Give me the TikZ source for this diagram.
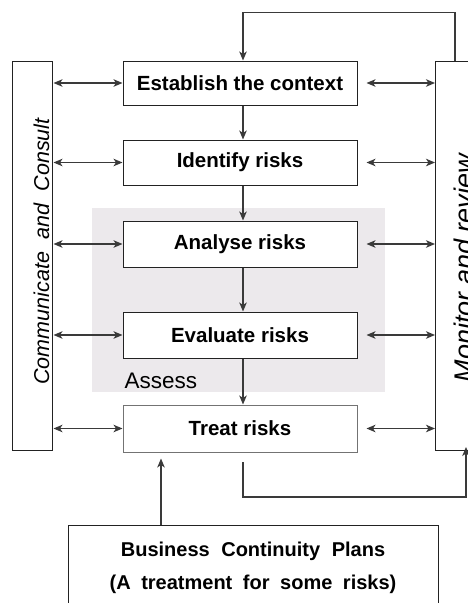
\documentclass[tikz,border=0pt]{standalone}
\usepackage{fontspec}
\usepackage{graphicx}
\setmainfont{Liberation Sans}
\usetikzlibrary{arrows.meta}
\definecolor{lineC}{HTML}{3A3A3A}
\definecolor{boxC}{HTML}{222222}
\definecolor{assessC}{HTML}{ECE9EC}
\tikzset{
  stepbox/.style={draw=boxC, line width=1pt, fill=white, minimum width=234pt, inner sep=0pt,
    font=\fontsize{20.5}{22}\selectfont\bfseries},
  sidebox/.style={draw=boxC, line width=1pt, fill=white, inner sep=0pt},
  conn/.style={draw=lineC, line width=1.3pt},
  tip/.style={-{Stealth[length=9pt,width=7.5pt,inset=2.5pt]}},
  dtip/.style={{Stealth[length=9pt,width=7.5pt,inset=2.5pt]}-{Stealth[length=9pt,width=7.5pt,inset=2.5pt]}},
}
\begin{document}
\begin{tikzpicture}[x=1pt,y=-1pt]
\useasboundingbox (0,0) rectangle (468,603);
\clip (0,0) rectangle (468,603);
% assess region
\fill[assessC] (92,208) rectangle (385,392);
\node[anchor=base west, font=\fontsize{22.5}{24}\selectfont] (assess) at (121,388) {Assess};
% step boxes
\node[stepbox, minimum height=44pt] (est) at (240,83) {Establish the context};
\node[stepbox, minimum height=45pt] (idr) at (240,162.5) {Identify risks};
\node[stepbox, minimum height=46pt] (ana) at (240,244) {Analyse risks};
\node[stepbox, minimum height=46pt] (eva) at (240,335) {Evaluate risks};
\node[stepbox, minimum height=47pt, draw=black!55] (tre) at (240,428.5) {Treat risks};
% side boxes
\node[sidebox, minimum width=40pt, minimum height=389pt] (cc) at (32,255.5) {};
\node[rotate=90, anchor=base, font=\fontsize{21.5}{24}\selectfont\itshape] (cctext) at (49,251.5) {Communicate\hspace{0.3em} and\hspace{0.3em} Consult};
\node[sidebox, anchor=north west, minimum width=60pt, minimum height=389pt] (mr) at (435,61) {};
\node[rotate=90, anchor=base, font=\fontsize{27}{29}\selectfont\itshape] (mrtext) at (473,268) {Monitor and review};
% bottom box
\node[sidebox, anchor=north west, minimum width=370pt, minimum height=120pt] (bcp) at (68,525) {};
\node[align=center, font=\fontsize{20}{33}\selectfont\bfseries] (bcptext) at (253,568) {Business\hspace{0.3em} Continuity\hspace{0.3em} Plans\\(A\hspace{0.25em} treatment\hspace{0.25em} for\hspace{0.25em} some\hspace{0.25em} risks)};
% column coordinate
\coordinate (col) at (243,0);
% vertical flow
\draw[conn,tip] (est.south -| col) -- (idr.north -| col);
\draw[conn,tip] (idr.south -| col) -- (ana.north -| col);
\draw[conn,tip] (ana.south -| col) -- (eva.north -| col);
\draw[conn,tip] (eva.south -| col) -- (tre.north -| col);
% horizontal double arrows
\foreach \n in {est,idr,ana,eva,tre}{
  \draw[conn,dtip,shorten <=1pt] (cc.east |- \n) -- (\n.west);
  \draw[conn,dtip,shorten <=9pt] (\n.east) -- (mr.west |- \n);
}
% top feedback loop
\coordinate (mrtop) at (455,61);
\draw[conn,tip] (mrtop) -- (455,12.5) -| (est.north -| col);
% bottom loop
\coordinate (trestart) at (243,462);
\coordinate (mrbot) at (466,450);
\draw[conn,tip,shorten >=-3pt] (trestart) |- (466,497) -- (mrbot);
% BCP arrow
\coordinate (bcpx) at (161,0);
\draw[conn,tip,shorten >=6pt] (bcp.north -| bcpx) -- (tre.south -| bcpx);
\end{tikzpicture}
\end{document}
